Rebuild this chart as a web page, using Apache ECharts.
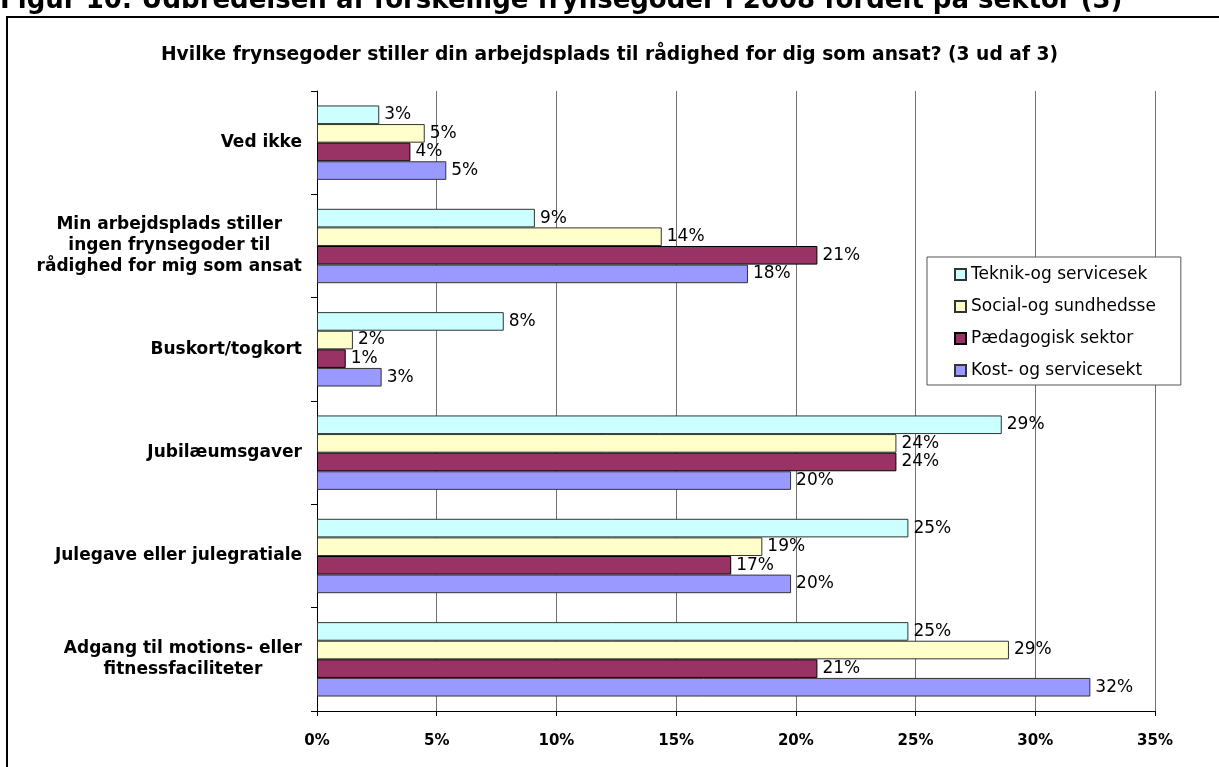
<!DOCTYPE html>
<html>
<head>
<meta charset="utf-8">
<script src="https://cdn.jsdelivr.net/npm/echarts@6/dist/echarts.min.js"></script>
<style>
  html, body { margin: 0; padding: 0; background: #fff; }
  #main { width: 1219px; height: 767px; }
</style>
</head>
<body>
<div id="main"></div>
<script>
// kategorier (oppefra og ned)
const categories = [
  'Ved ikke',
  'Min arbejdsplads stiller\ningen frynsegoder til\nrådighed for mig som ansat',
  'Buskort/togkort',
  'Jubilæumsgaver',
  'Julegave eller julegratiale',
  'Adgang til motions- eller\nfitnessfaciliteter'
];
const seriesNames = ['Teknik-og servicesek', 'Social-og sundhedsse', 'Pædagogisk sektor', 'Kost- og servicesekt'];
const colors = ['#CCFFFF', '#FFFFCC', '#993366', '#9999FF'];
// værdier i procent
const teknik = [2.6, 9.1, 7.8, 28.6, 24.7, 24.7];
const social = [4.5, 14.4, 1.5, 24.2, 18.6, 28.9];
const paed = [3.9, 20.9, 1.2, 24.2, 17.3, 20.9];
const kost = [5.4, 18.0, 2.7, 19.8, 19.8, 32.3];
const xTicks = [0, 5, 10, 15, 20, 25, 30, 35];

const font = 'DejaVu Sans, Verdana, sans-serif';
const values = [teknik, social, paed, kost];

let chart = echarts.init(document.getElementById('main'));

let series = seriesNames.map((name, i) => {
  return {
    name: name,
    type: 'bar',
    data: values[i],
    barGap: '0%',
    barCategoryGap: '28%',
    itemStyle: {
      color: colors[i],
      borderColor: i === 2 ? '#000' : '#333',
      borderWidth: 1
    },
    label: {
      show: true,
      position: 'right',
      distance: 5,
      color: '#000',
      fontFamily: font,
      fontSize: 17,
      formatter: p => Math.round(p.value) + '%'
    }
  };
});

let option = {
  backgroundColor: '#fff',
  animation: false,
  title: {
    text: 'Hvilke frynsegoder stiller din arbejdsplads til rådighed for dig som ansat? (3 ud af 3)',
    left: 'center',
    top: 41,
    textStyle: { fontFamily: font, fontSize: 18.7, fontWeight: 'bold', color: '#000' }
  },
  graphic: [
    {
      type: 'text',
      x: 0,
      y: 14,
      style: {
        text: 'Figur 10: Udbredelsen af forskellige frynsegoder i 2008 fordelt på sektor (3)',
        font: 'bold 26px ' + font,
        fill: '#000',
        verticalAlign: 'bottom'
      }
    },
    {
      type: 'rect',
      shape: { x: 7, y: 17, width: 1400, height: 900 },
      style: { fill: 'none', stroke: '#000', lineWidth: 2 }
    }
  ],
  legend: {
    orient: 'vertical',
    left: 927,
    top: 257,
    data: seriesNames,
    itemWidth: 11,
    itemHeight: 11,
    itemGap: 15,
    padding: [9, 25, 6, 27],
    backgroundColor: '#fff',
    borderColor: '#555',
    borderWidth: 1,
    borderRadius: 0,
    icon: 'rect',
    textStyle: { fontFamily: font, fontSize: 17, color: '#000' }
  },
  grid: { left: 317, right: 64, top: 91, bottom: 56, containLabel: false },
  xAxis: {
    type: 'value',
    min: xTicks[0],
    max: xTicks[xTicks.length - 1],
    interval: 5,
    axisLine: { show: true, lineStyle: { color: '#000', width: 1 } },
    axisTick: { show: true, length: 5, lineStyle: { color: '#000' } },
    splitLine: { show: true, lineStyle: { color: '#707070', width: 1 } },
    axisLabel: {
      margin: 23,
      formatter: '{value}%',
      fontFamily: font,
      fontSize: 15,
      fontWeight: 'bold',
      color: '#000'
    }
  },
  yAxis: {
    type: 'category',
    inverse: true,
    data: categories,
    axisLine: { show: true, lineStyle: { color: '#000', width: 1 } },
    axisTick: { show: true, length: 6, lineStyle: { color: '#000' } },
    axisLabel: {
      margin: 15,
      align: 'right',
      color: '#000',
      formatter: v => v.split('\n').map(l => '{c|' + l + '}').join('\n'),
      rich: {
        c: {
          align: 'center',
          fontFamily: font,
          fontSize: 17,
          fontWeight: 'bold',
          lineHeight: 21,
          color: '#000'
        }
      }
    }
  },
  series: series
};

chart.setOption(option);
</script>
</body>
</html>
